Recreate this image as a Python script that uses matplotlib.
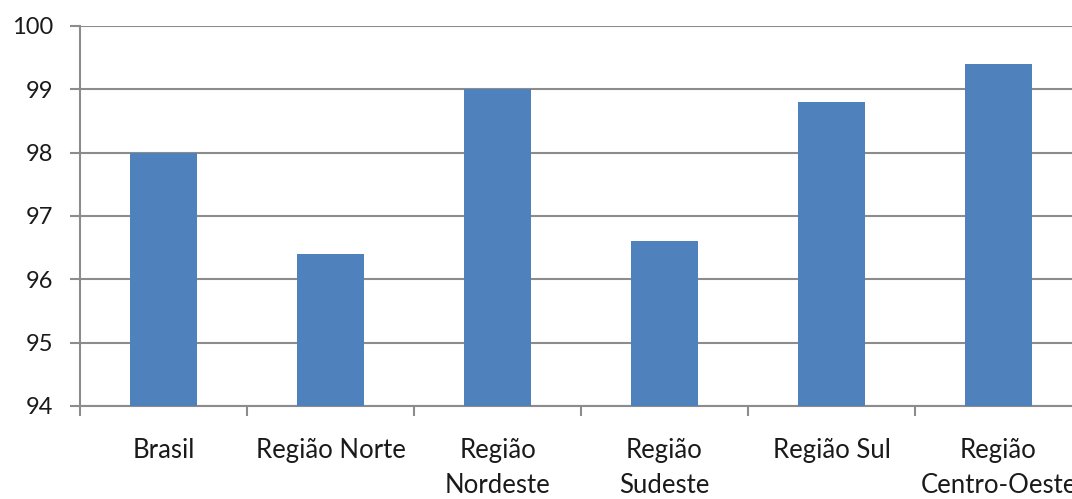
import matplotlib.pyplot as plt
import numpy as np

categories = ['Brasil', 'Região Norte', 'Região\nNordeste', 'Região\nSudeste',
              'Região Sul', 'Região\nCentro-Oeste']
values = [98.0, 96.4, 99.0, 96.6, 98.8, 99.4]
yticks = [94, 95, 96, 97, 98, 99, 100]

plt.rcParams['font.family'] = ['Lato', 'DejaVu Sans']

fig = plt.figure(figsize=(10.72, 4.99), dpi=100)
ax = fig.add_axes([80 / 1072, 1 - 406 / 499, 1002 / 1072, 380 / 499])

x = np.arange(len(categories))
ax.bar(x, values, width=0.4, color='#4F81BD', bottom=0, zorder=3)

ax.set_ylim(94, 100)
ax.set_xlim(-0.5, len(categories) - 0.5)
ax.set_yticks(yticks)
ax.yaxis.grid(True, color='#8c8c8c', linewidth=1.5, zorder=0)

ax.set_xticks(np.arange(len(categories) + 1) - 0.5)
ax.set_xticklabels([])
ax.set_xticks(x, minor=True)
ax.set_xticklabels(categories, minor=True, fontsize=18.5, color='#1a1a1a',
                   linespacing=1.5)
ax.tick_params(axis='x', which='major', length=7, width=1.5, color='#8c8c8c')
ax.tick_params(axis='x', which='minor', length=0, pad=23)
ax.tick_params(axis='y', length=7, width=1.5, color='#8c8c8c', pad=12,
               labelsize=17, labelcolor='#1a1a1a')

for s in ['top', 'right']:
    ax.spines[s].set_visible(False)
for s in ['left', 'bottom']:
    ax.spines[s].set_color('#8c8c8c')
    ax.spines[s].set_linewidth(1.5)

fig.savefig('out.png', dpi=100)
